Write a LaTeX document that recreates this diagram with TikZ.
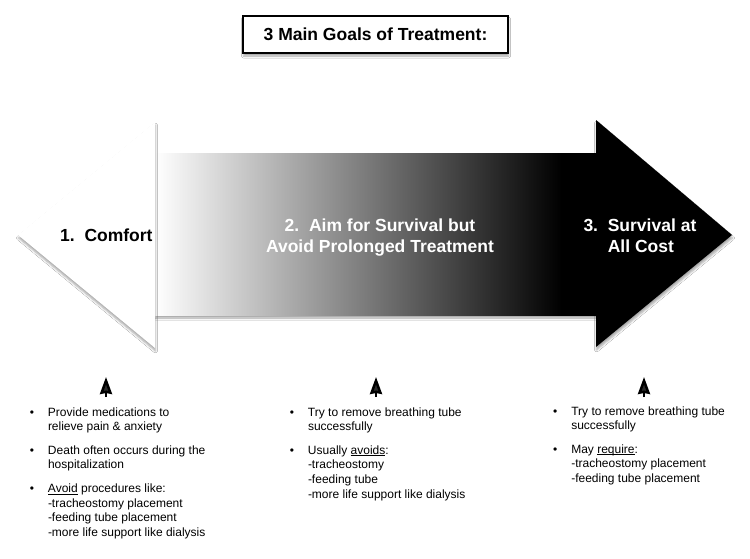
\documentclass[tikz,border=0pt]{standalone}
\usepackage{fontspec}
\setmainfont{Liberation Sans}
\usetikzlibrary{arrows.meta,positioning,shadows.blur}
\pgfdeclarehorizontalshading{shaftfade}{100bp}{color(0bp)=(white); color(25bp)=(white); color(71bp)=(black); color(100bp)=(black)}
\newcommand{\ulword}[1]{\underline{\smash{#1}}}

\begin{document}
\begin{tikzpicture}[x=1pt, y=-1pt,
    softshadow/.style={blur shadow={shadow xshift=0.5pt, shadow yshift=-3pt, shadow blur radius=2pt, shadow opacity=35}},
    goallabel/.style={inner sep=0pt, font=\fontsize{17.5}{21}\selectfont\bfseries},
    steplist/.style={inner sep=0pt, anchor=base west, font=\fontsize{12}{14.6}\selectfont},
    pointer/.style={line width=2.5pt, -{Stealth[length=17pt, width=12pt, inset=1pt]}}]

    \useasboundingbox[fill=white] (0,0) rectangle (750,558);

    % Title
    \node[draw, line width=1.2pt, fill=white, minimum width=265pt, minimum height=37pt, softshadow,
        font=\fontsize{17.5}{21}\selectfont\bfseries] (title) at (375.5,34.5) {3 Main Goals of Treatment:};

    % Double arrow: shaded shaft, white head on the left, black head on the right
    \path[shading=shaftfade, softshadow] (155,153) rectangle (597,315);
    \fill[white, softshadow] (155,122) -- (18,235) -- (155,348) -- cycle;
    \fill[black, softshadow] (596,120) -- (732,235) -- (596,347) -- cycle;

    % Goal labels
    \node[goallabel, anchor=base west] (comfort) at (60,241.7) {1.\ \ Comfort};
    \node[goallabel, anchor=base, text=white] (aim) at (380,231.7)
        {\begin{tabular}[t]{@{}c@{}}2.\ \ Aim for Survival but\\ Avoid Prolonged Treatment\end{tabular}};
    \node[goallabel, anchor=base west, text=white] (cost) at (583.3,231.7)
        {\begin{tabular}[t]{@{}l@{\ \ }l@{}}3. & Survival at\\ & All Cost\end{tabular}};

    % Lists
    \node[steplist] (comfortlist) at (29.6,416) {\begin{tabular}[t]{@{}l@{\hspace{14pt}}l@{}}
        \textbullet & Provide medications to\\
        & relieve pain \& anxiety\\[9pt]
        \textbullet & Death often occurs during the\\
        & hospitalization\\[9pt]
        \textbullet & \ulword{Avoid} procedures like:\\
        & -tracheostomy placement\\
        & -feeding tube placement\\
        & -more life support like dialysis
    \end{tabular}};
    \node[steplist] (aimlist) at (289.6,416) {\begin{tabular}[t]{@{}l@{\hspace{14pt}}l@{}}
        \textbullet & Try to remove breathing tube\\
        & successfully\\[9pt]
        \textbullet & Usually \ulword{avoids}:\\
        & -tracheostomy\\
        & -feeding tube\\
        & -more life support like dialysis
    \end{tabular}};
    \node[steplist] (costlist) at (552.9,415) {\begin{tabular}[t]{@{}l@{\hspace{14pt}}l@{}}
        \textbullet & Try to remove breathing tube\\
        & successfully\\[9pt]
        \textbullet & May \ulword{require}:\\
        & -tracheostomy placement\\
        & -feeding tube placement
    \end{tabular}};

    % Pointers
    \coordinate (comfortfoot) at (106,397);
    \coordinate[above=20pt of comfortfoot] (comfortup);
    \coordinate (aimfoot) at (376,397);
    \coordinate[above=20pt of aimfoot] (aimup);
    \coordinate (costfoot) at (644,397);
    \coordinate[above=20pt of costfoot] (costup);
    \draw[pointer] (comfortfoot) -- (comfortup);
    \draw[pointer] (aimfoot) -- (aimup);
    \draw[pointer] (costfoot) -- (costup);
\end{tikzpicture}
\end{document}
